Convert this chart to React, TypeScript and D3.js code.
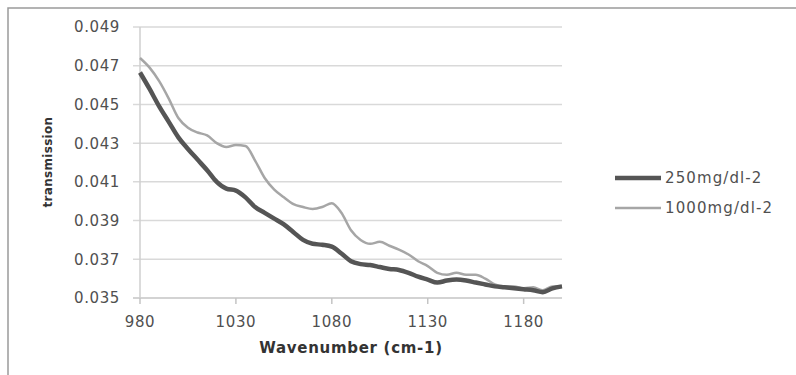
import * as React from "react"
import { useEffect, useRef } from "react"
import * as d3 from "d3"

const wavenumbers = [
  980, 985, 990, 995, 1000, 1005, 1010, 1015, 1020, 1025, 1030, 1035, 1040, 1045, 1050,
  1055, 1060, 1065, 1070, 1075, 1080, 1085, 1090, 1095, 1100, 1105, 1110, 1115, 1120, 1125,
  1130, 1135, 1140, 1145, 1150, 1155, 1160, 1165, 1170, 1175, 1180, 1185, 1190, 1195, 1200,
]

const series250 = [
  0.04665, 0.0458, 0.0449, 0.0441, 0.0433, 0.0427, 0.04215, 0.0416, 0.041, 0.04065, 0.04055,
  0.0402, 0.0397, 0.0394, 0.0391, 0.0388, 0.0384, 0.038, 0.0378, 0.03775, 0.03765, 0.0373,
  0.0369, 0.03675, 0.0367, 0.0366, 0.0365, 0.03645, 0.0363, 0.0361, 0.03595, 0.0358, 0.0359,
  0.03595, 0.0359, 0.0358, 0.0357, 0.0356, 0.03555, 0.0355, 0.03545, 0.0354, 0.0353, 0.0355,
  0.0356,
]

const series1000 = [
  0.0474, 0.0469, 0.0462, 0.0453, 0.0443, 0.0438, 0.04355, 0.0434, 0.043, 0.0428, 0.0429,
  0.04285, 0.0421, 0.0412, 0.0406, 0.0402, 0.03985, 0.0397, 0.0396, 0.0397, 0.0399, 0.0394,
  0.0385, 0.038, 0.0378, 0.0379, 0.0377, 0.0375, 0.03725, 0.0369, 0.03665, 0.0363, 0.0362,
  0.0363, 0.0362, 0.0362, 0.036, 0.0357, 0.0356, 0.0356, 0.0355, 0.03555, 0.0354, 0.0356,
  0.0356,
]

const xTicks = [980, 1030, 1080, 1130, 1180]
const yTicks = [0.035, 0.037, 0.039, 0.041, 0.043, 0.045, 0.047, 0.049]

const seriesNames = ["250mg/dl-2", "1000mg/dl-2"]

export default function App() {
  const svgRef = useRef<SVGSVGElement | null>(null)

  useEffect(() => {
    if (!svgRef.current) return
    const svg = d3.select(svgRef.current)
    svg.selectAll("*").remove()

    const width = 796
    const height = 375
    const plot = { left: 140, right: 562, top: 27, bottom: 298 }
    const font = "'DejaVu Sans', sans-serif"

    const x = d3.scaleLinear().domain([980, 1200]).range([plot.left, plot.right])
    const y = d3.scaleLinear().domain([0.035, 0.049]).range([plot.bottom, plot.top])

    // outer frame (only top and left edges are visible)
    svg.append("path")
      .attr("d", `M8,${height} L8,8 L${width},8`)
      .attr("fill", "none")
      .attr("stroke", "#9a9a9a")
      .attr("stroke-width", 1.5)

    // horizontal gridlines with outside tick stubs
    svg.append("g")
      .selectAll("line")
      .data(yTicks)
      .join("line")
      .attr("x1", plot.left - 7)
      .attr("x2", plot.right)
      .attr("y1", d => y(d))
      .attr("y2", d => y(d))
      .attr("stroke", d => (d === 0.035 ? "#c4c4c4" : "#d9d9d9"))
      .attr("stroke-width", 1.5)

    // y axis line
    svg.append("line")
      .attr("x1", plot.left).attr("x2", plot.left)
      .attr("y1", plot.top).attr("y2", plot.bottom)
      .attr("stroke", "#cfcfcf")
      .attr("stroke-width", 1.5)

    // x ticks
    svg.append("g")
      .selectAll("line")
      .data(xTicks)
      .join("line")
      .attr("x1", d => x(d)).attr("x2", d => x(d))
      .attr("y1", plot.bottom).attr("y2", plot.bottom + 6)
      .attr("stroke", "#c4c4c4")
      .attr("stroke-width", 1.5)

    // y tick labels
    svg.append("g")
      .selectAll("text")
      .data(yTicks)
      .join("text")
      .attr("x", 120)
      .attr("y", d => y(d))
      .attr("dy", "0.36em")
      .attr("text-anchor", "end")
      .attr("font-family", font)
      .attr("font-size", 15)
      .attr("letter-spacing", 0.6)
      .attr("fill", "#505050")
      .text(d => d3.format(".3f")(d))

    // x tick labels
    svg.append("g")
      .selectAll("text")
      .data(xTicks)
      .join("text")
      .attr("x", d => x(d))
      .attr("y", 327)
      .attr("text-anchor", "middle")
      .attr("font-family", font)
      .attr("font-size", 15)
      .attr("letter-spacing", 0.6)
      .attr("fill", "#505050")
      .text(d => String(d))

    // axis titles
    svg.append("text")
      .attr("x", (plot.left + plot.right) / 2)
      .attr("y", 353)
      .attr("text-anchor", "middle")
      .attr("font-family", font)
      .attr("font-weight", "bold")
      .attr("font-size", 15)
      .attr("letter-spacing", 0.7)
      .attr("fill", "#333")
      .text("Wavenumber (cm-1)")

    svg.append("text")
      .attr("transform", "translate(52,162) rotate(-90)")
      .attr("text-anchor", "middle")
      .attr("font-family", font)
      .attr("font-weight", "bold")
      .attr("font-size", 12)
      .attr("letter-spacing", 0.3)
      .attr("fill", "#333")
      .text("transmission")

    const rows = wavenumbers.map((w, i) => ({ w, a: series250[i], b: series1000[i] }))

    const line1000 = d3.line<typeof rows[number]>()
      .x(d => x(d.w))
      .y(d => y(d.b))
      .curve(d3.curveMonotoneX)

    const line250 = d3.line<typeof rows[number]>()
      .x(d => x(d.w))
      .y(d => y(d.a))
      .curve(d3.curveMonotoneX)

    svg.append("path")
      .datum(rows)
      .attr("fill", "none")
      .attr("stroke", "#a6a6a6")
      .attr("stroke-width", 2.5)
      .attr("stroke-linejoin", "round")
      .attr("d", line1000)

    svg.append("path")
      .datum(rows)
      .attr("fill", "none")
      .attr("stroke", "#555555")
      .attr("stroke-width", 4.5)
      .attr("stroke-linejoin", "round")
      .attr("d", line250)

    // legend
    const legendColors = ["#555555", "#a6a6a6"]
    const legendWidths = [4.5, 2.5]
    const legend = svg.append("g")
    seriesNames.forEach((name, i) => {
      const ly = 178 + i * 30
      legend.append("line")
        .attr("x1", 615).attr("x2", 661)
        .attr("y1", ly).attr("y2", ly)
        .attr("stroke", legendColors[i])
        .attr("stroke-width", legendWidths[i])
      legend.append("text")
        .attr("x", 665)
        .attr("y", ly)
        .attr("dy", "0.36em")
        .attr("font-family", font)
        .attr("font-size", 15)
        .attr("letter-spacing", 1.1)
        .attr("fill", "#505050")
        .text(name)
    })
  }, [])

  return (
    <svg
      ref={svgRef}
      width="796"
      height="375"
      style={{ position: "absolute", left: 0, top: 0, background: "#fff" }}
    />
  )
}
